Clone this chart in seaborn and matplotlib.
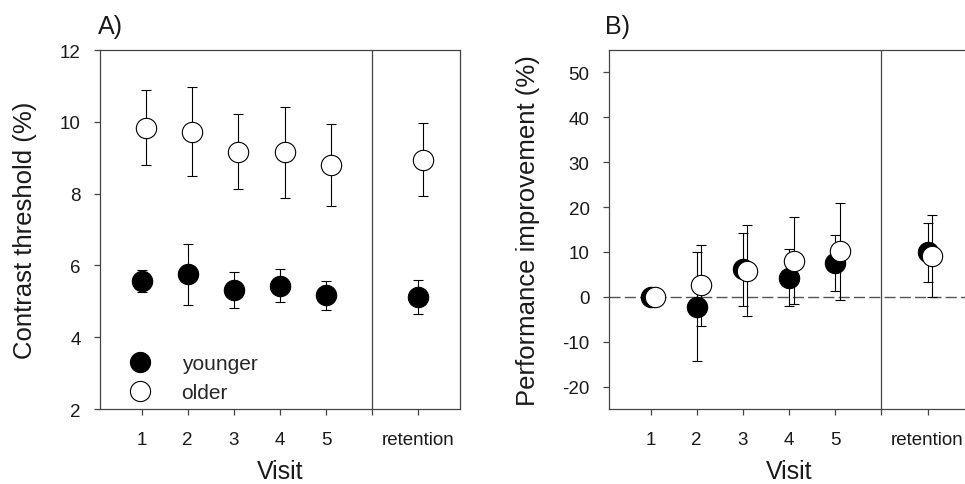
import numpy as np
import seaborn as sns
import matplotlib.pyplot as plt
from matplotlib.lines import Line2D

# x positions of the sessions (6 is the gap line before retention)
visit_pos = [1, 2, 3, 4, 5, 7]
tick_pos = [1, 2, 3, 4, 5, 6, 7]
tick_labels = ['1', '2', '3', '4', '5', '', 'retention']

# A) contrast threshold (%)
young_thr = [5.57, 5.75, 5.32, 5.44, 5.17, 5.12]
young_thr_err = [0.31, 0.84, 0.51, 0.46, 0.40, 0.48]
old_thr = [9.84, 9.72, 9.17, 9.15, 8.80, 8.95]
old_thr_err = [1.04, 1.24, 1.04, 1.27, 1.15, 1.03]

# B) performance improvement (%)
young_imp = [0.0, -2.2, 6.1, 4.3, 7.6, 9.95]
young_imp_err = [0.0, 12.2, 8.2, 6.4, 6.25, 6.55]
old_imp = [0.0, 2.55, 5.85, 8.05, 10.15, 9.1]
old_imp_err = [0.0, 9.05, 10.2, 9.65, 10.85, 9.1]

sns.set_theme(style="ticks")
plt.rcParams['font.family'] = ['Liberation Sans', 'DejaVu Sans']
plt.rcParams['axes.unicode_minus'] = False

SPINE = '#444444'
TXT = '#1a1a1a'
OFFSET = 0.1
MS = 215


def draw_group(ax, y_young, e_young, y_old, e_old):
    xs = np.array(visit_pos, dtype=float)
    xo = xs + OFFSET
    ax.errorbar(xs, y_young, yerr=e_young, fmt='none', ecolor='black',
                elinewidth=0.8, capsize=3.3, capthick=0.8, zorder=2)
    sns.scatterplot(ax=ax, x=xs, y=y_young, s=MS, color='black',
                    edgecolor='black', linewidth=0.8, zorder=3, legend=False)
    ax.errorbar(xo, y_old, yerr=e_old, fmt='none', ecolor='black',
                elinewidth=0.8, capsize=3.3, capthick=0.8, zorder=4)
    sns.scatterplot(ax=ax, x=xo, y=y_old, s=MS, color='white',
                    edgecolor='black', linewidth=0.8, zorder=5, legend=False)


def style_axes(ax):
    for sp in ax.spines.values():
        sp.set_visible(True)
        sp.set_color(SPINE)
        sp.set_linewidth(0.9)
    ax.axvline(6, color=SPINE, lw=0.9, zorder=1)
    ax.set_xlim(0.1, 7.9)
    ax.set_xticks(tick_pos)
    ax.set_xticklabels(tick_labels)
    ax.tick_params(axis='both', direction='out', length=4, width=0.9,
                   color=SPINE, labelsize=13.5, pad=10, labelcolor=TXT)
    ax.tick_params(axis='x', pad=12)
    ax.set_xlabel('Visit', fontsize=18, color=TXT, labelpad=8)


fig = plt.figure(figsize=(9.65, 4.85), dpi=100)
axA = fig.add_axes([0.1036, 0.1546, 0.3731, 0.7402])
axB = fig.add_axes([0.6311, 0.1546, 0.3731, 0.7402])

# panel A
draw_group(axA, young_thr, young_thr_err, old_thr, old_thr_err)
style_axes(axA)
axA.set_ylim(2, 12)
axA.set_yticks([2, 4, 6, 8, 10, 12])
axA.set_ylabel('Contrast threshold (%)', fontsize=18.5, color=TXT, labelpad=16)
axA.text(-0.005, 1.047, 'A)', transform=axA.transAxes, fontsize=18,
         ha='left', va='baseline', color=TXT)
handles = [Line2D([], [], ls='none', marker='o', markersize=14.5,
                  markerfacecolor='black', markeredgecolor='black', markeredgewidth=0.8),
           Line2D([], [], ls='none', marker='o', markersize=14.5,
                  markerfacecolor='white', markeredgecolor='black', markeredgewidth=0.8)]
axA.legend(handles, ['younger', 'older'], loc='lower left',
           bbox_to_anchor=(0.053, 0.02), frameon=False, fontsize=15,
           handlelength=2.0, handletextpad=1.0, borderpad=0, borderaxespad=0,
           labelspacing=0.45)

# panel B
axB.axhline(0, color='#555555', lw=1.0, dashes=(8, 3), zorder=1)
draw_group(axB, young_imp, young_imp_err, old_imp, old_imp_err)
style_axes(axB)
axB.set_ylim(-25, 55)
axB.set_yticks([-20, -10, 0, 10, 20, 30, 40, 50])
axB.set_ylabel('Performance improvement (%)', fontsize=18.5, color=TXT, labelpad=16)
axB.text(-0.011, 1.047, 'B)', transform=axB.transAxes, fontsize=18,
         ha='left', va='baseline', color=TXT)

fig.savefig('out.png', dpi=100)
